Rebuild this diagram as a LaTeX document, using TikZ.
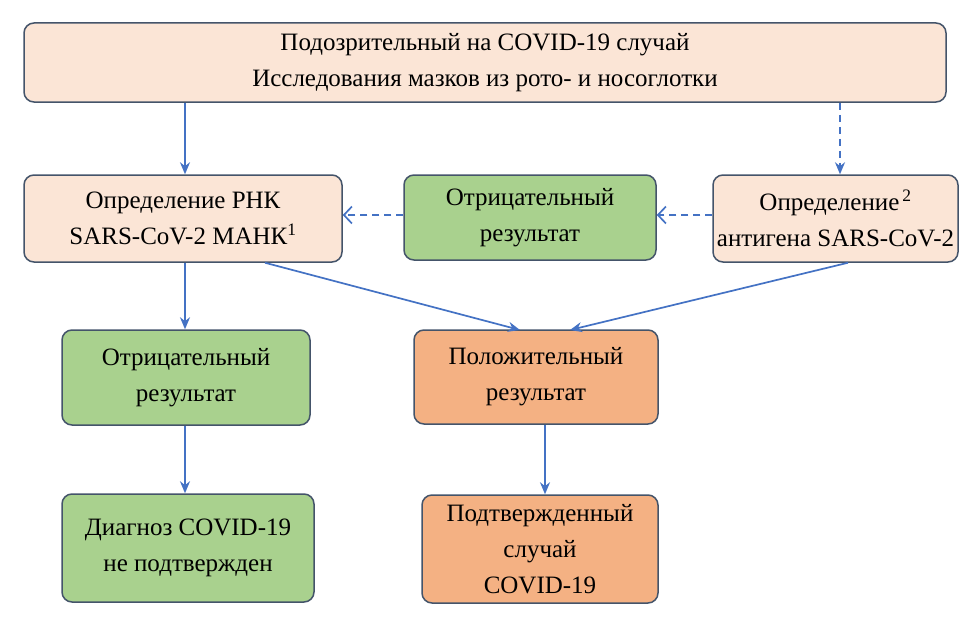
\documentclass[tikz,border=0pt]{standalone}
\usepackage{fontspec}
\setmainfont{Liberation Serif}
\usetikzlibrary{arrows.meta}
\definecolor{peach}{HTML}{FBE5D6}
\definecolor{grn}{HTML}{A9D18E}
\definecolor{orng}{HTML}{F4B183}
\definecolor{bord}{HTML}{44546A}
\definecolor{arr}{HTML}{4472C4}
\tikzset{
  box/.style={draw=bord, line width=1.5pt, rounded corners=10pt, align=center, font=\fontsize{25}{36}\selectfont, inner sep=0pt},
  conn/.style={draw=arr, line width=1.7pt, -{Stealth[length=12pt,width=10pt]}},
  dconn/.style={draw=arr, line width=1.7pt, dash pattern=on 7pt off 5pt, -{Straight Barb[length=8pt,width=17pt]}},
  dconnf/.style={draw=arr, line width=1.7pt, dash pattern=on 7pt off 5pt, -{Stealth[length=12pt,width=10pt]}}
}
\begin{document}
\begin{tikzpicture}[x=1pt,y=-1pt]
\useasboundingbox[fill=white] (0,0) rectangle (968,634);
\node[box, fill=peach, minimum width=922pt, minimum height=79pt] (top) at (485,62.5) {Подозрительный на COVID-19 случай\\Исследования мазков из рото- и носоглотки};
\node[box, fill=peach, minimum width=318pt, minimum height=87pt] (rnk) at (183,218.5) {Определение РНК\\SARS-CoV-2 МАНК\textsuperscript{1}};
\node[box, fill=grn, minimum width=252pt, minimum height=85pt] (neg1) at (530,217.5) {Отрицательный\\результат};
\node[box, fill=peach, minimum width=245pt, minimum height=87pt] (ag) at (835.5,218.5) {Определение\textsuperscript{\,2}\\антигена SARS-CoV-2};
\node[box, fill=grn, minimum width=248pt, minimum height=95pt] (neg2) at (186,377.5) {Отрицательный\\результат};
\node[box, fill=orng, minimum width=244pt, minimum height=94pt] (pos) at (536,377) {Положительный\\результат};
\node[box, fill=grn, minimum width=252pt, minimum height=108pt] (diag) at (188,548) {Диагноз COVID-19\\не подтвержден};
\node[box, fill=orng, minimum width=236pt, minimum height=108pt] (conf) at (540,549) {Подтвержденный\\случай\\COVID-19};
\draw[conn] (top.south -| 185,0) -- (rnk.north -| 185,0);
\draw[dconnf] (top.south -| 840,0) -- (ag.north -| 840,0);
\draw[dconn] (ag.west |- 0,215) -- (neg1.east |- 0,215);
\draw[dconn] (neg1.west |- 0,215) -- (rnk.east |- 0,215);
\coordinate (p1) at (520,330);
\coordinate (p2) at (570,330);
\draw[conn] (rnk.south -| 265,0) -- (p1);
\draw[conn] (ag.south -| 848,0) -- (p2);
\draw[conn] (rnk.south -| 185,0) -- (neg2.north -| 185,0);
\draw[conn] (neg2.south -| 185,0) -- (diag.north -| 185,0);
\draw[conn] (pos.south -| 545,0) -- (conf.north -| 545,0);
\end{tikzpicture}
\end{document}
